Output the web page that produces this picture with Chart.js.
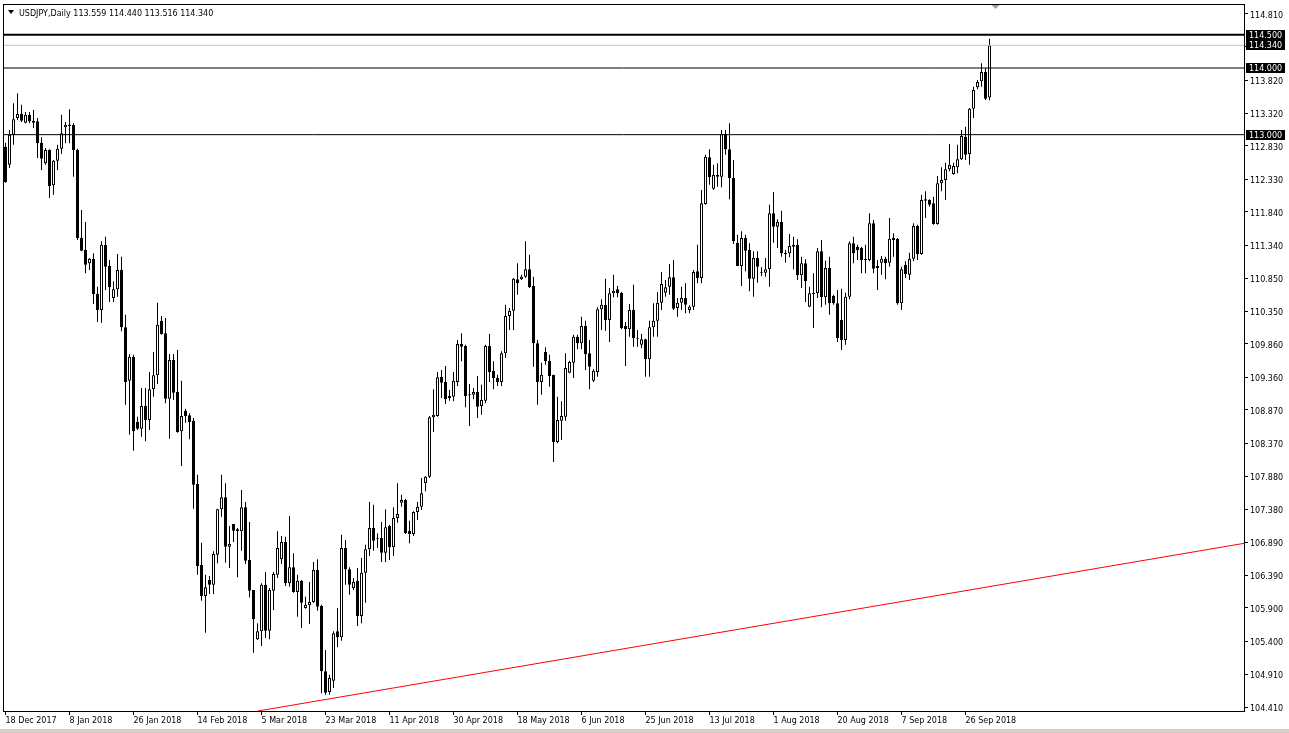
<!DOCTYPE html>
<html>
<head>
<meta charset="utf-8">
<script src="https://cdn.jsdelivr.net/npm/chart.js@4.4.1/dist/chart.umd.min.js"></script>
<style>
html,body{margin:0;padding:0;background:#fff;overflow:hidden}
#wrap{position:relative;width:1289px;height:733px}
canvas{display:block}
</style>
</head>
<body>
<div id="wrap"><canvas id="c" width="1289" height="733"></canvas></div>
<script>
const symbolTitle = 'USDJPY,Daily';
const lastBarText = '113.559 114.440 113.516 114.340';

const opens = [112.82,112.55,113.00,113.25,113.31,113.18,113.30,113.21,113.20,112.88,
112.57,112.77,112.24,112.61,112.79,113.11,113.13,113.15,112.77,111.45,
111.27,111.07,111.14,110.61,110.37,111.35,111.03,110.55,110.68,110.97,
110.11,109.31,109.67,108.69,108.59,108.93,108.72,109.18,109.39,110.21,
110.02,109.04,109.62,109.14,108.55,108.86,108.79,108.71,107.76,106.55,
106.08,106.32,106.25,106.70,107.38,107.56,106.82,107.16,107.08,107.05,
107.41,106.62,106.17,105.43,105.55,106.25,105.56,106.16,106.40,106.63,
106.89,106.27,106.51,106.14,106.31,105.90,105.94,105.99,106.47,105.93,
104.95,104.64,104.81,105.55,105.46,106.80,106.48,106.20,106.31,105.78,
106.43,106.78,107.10,106.95,106.95,106.73,107.13,106.81,107.25,107.48,
107.52,107.06,107.01,107.34,107.42,107.77,107.87,108.76,108.78,109.37,
109.29,109.08,109.07,109.29,109.86,109.83,109.10,109.10,109.14,108.93,
109.01,109.83,109.46,109.35,109.29,109.72,110.28,110.36,110.83,110.83,
110.87,110.98,110.73,109.87,109.29,109.74,109.61,109.40,108.39,108.71,
108.77,109.43,109.58,109.97,109.87,110.13,109.72,109.31,109.44,110.38,
110.45,110.22,110.62,110.68,110.63,110.13,110.08,110.37,109.95,109.85,
109.93,109.63,110.11,110.21,110.48,110.63,110.72,110.86,110.40,110.48,
110.55,110.37,110.42,110.95,110.85,111.96,112.66,112.19,112.37,112.37,
113.01,112.78,112.35,111.38,111.03,111.45,111.27,110.84,111.15,110.94,
110.93,110.98,111.82,111.62,111.69,111.23,111.22,111.35,111.35,110.89,
111.07,110.42,110.62,110.62,111.25,110.56,111.00,110.58,110.47,110.22,
109.92,110.57,111.37,111.32,111.30,111.13,111.12,111.67,111.00,111.08,
111.14,111.08,111.42,111.44,110.47,111.05,110.90,111.14,111.63,111.21,
112.01,112.02,111.97,111.66,112.27,112.32,112.48,112.41,112.51,112.63,
112.97,112.71,113.39,113.71,113.80,113.94,113.559];

const highs = [112.88,113.07,113.47,113.62,113.45,113.34,113.34,113.37,113.25,112.96,
112.80,112.78,112.62,112.85,113.30,113.19,113.38,113.17,112.79,111.87,
111.69,111.15,111.22,110.72,111.40,111.47,111.12,110.80,111.21,111.17,
110.30,109.71,109.70,108.77,109.20,109.20,109.44,109.74,110.48,110.28,
110.25,109.71,109.71,109.77,109.31,108.89,108.82,108.75,107.90,106.88,
106.40,106.38,106.75,107.39,107.90,107.77,107.13,107.16,107.10,107.67,
107.49,107.19,106.17,105.67,106.27,106.44,106.20,106.44,107.05,106.98,
106.97,107.28,106.72,106.40,106.32,106.07,106.29,106.59,106.63,105.95,
105.27,104.90,105.55,105.90,107.00,106.92,106.51,106.35,106.50,106.65,
106.85,107.49,107.45,107.02,107.19,107.38,107.15,107.41,107.77,107.60,
107.54,107.21,107.35,107.49,107.85,107.88,108.78,109.18,109.44,109.47,
109.53,109.17,109.44,109.92,110.02,109.85,109.26,109.20,109.38,109.25,
109.85,110.01,109.60,109.40,109.75,110.45,110.40,110.85,111.07,110.90,
111.40,111.20,110.87,109.92,109.58,109.81,109.70,109.40,109.07,109.00,
109.72,109.61,110.00,110.00,110.27,110.21,109.92,109.48,110.41,110.53,
110.84,110.70,110.90,110.73,110.64,110.19,110.46,110.75,110.07,110.01,
109.94,110.21,110.47,110.64,110.94,110.82,111.06,111.12,110.55,110.72,
110.77,110.44,110.97,111.35,112.17,112.70,112.78,112.55,112.57,113.07,
113.07,113.17,112.62,111.50,111.55,111.50,111.37,111.25,111.25,111.01,
111.15,111.95,112.14,111.73,111.86,111.27,111.51,111.47,111.43,111.17,
111.13,110.72,110.92,111.30,111.42,111.11,111.17,110.60,110.67,110.69,
110.63,111.40,111.47,111.35,111.32,111.35,111.82,111.72,111.12,111.18,
111.17,111.75,111.52,111.45,111.02,111.10,111.23,111.67,111.65,112.10,
112.15,112.03,112.07,112.38,112.51,112.58,112.86,112.58,112.85,113.07,
113.12,113.40,113.72,113.82,114.07,114.00,114.440];

const lows = [112.28,112.50,112.85,113.22,113.19,113.17,113.17,113.10,112.65,112.47,
112.55,112.05,112.10,112.47,112.71,112.87,112.87,112.37,111.42,111.25,
110.92,110.97,110.46,110.19,110.18,110.67,110.49,110.49,110.57,110.05,
108.95,108.50,108.26,108.57,108.47,108.40,108.57,109.07,109.26,110.00,
108.97,108.44,109.02,108.53,108.03,108.68,108.43,107.39,106.40,106.01,
105.53,106.11,106.11,106.57,107.27,106.58,106.50,106.89,106.36,106.76,
106.56,106.06,105.23,105.42,105.33,105.45,105.43,105.87,106.35,106.56,
106.23,106.22,106.13,105.77,105.60,105.89,105.66,105.98,105.86,104.62,
104.60,104.60,104.70,105.31,105.41,106.25,106.10,106.17,105.63,105.67,
105.98,106.68,106.76,106.80,106.59,106.59,106.62,106.68,107.18,107.42,
107.01,106.87,106.98,107.22,107.37,107.65,107.85,108.54,108.77,109.05,
108.96,109.01,109.00,109.23,109.60,108.91,108.63,109.03,108.75,108.80,
108.97,109.29,109.18,109.23,109.23,109.65,110.07,110.07,110.60,110.82,
110.85,110.70,109.52,108.95,109.10,109.55,109.22,108.09,108.37,108.42,
108.71,109.42,109.35,109.78,109.78,109.47,109.18,109.29,109.37,110.07,
110.06,109.89,110.56,110.56,110.08,109.53,109.97,109.82,109.82,109.80,
109.37,109.37,109.97,109.97,110.37,110.57,110.60,110.37,110.27,110.37,
110.32,110.32,110.37,110.77,110.77,111.95,112.25,112.17,112.22,112.21,
112.70,112.03,111.36,111.03,110.73,110.95,110.65,110.57,110.78,110.88,
110.87,110.72,111.38,111.30,111.17,111.08,111.16,110.98,110.82,110.70,
110.49,110.41,110.10,110.55,110.41,110.45,110.30,110.45,109.89,109.77,
109.85,110.53,111.07,111.12,110.92,110.92,111.10,110.92,110.67,110.90,
110.83,111.02,111.17,110.45,110.37,110.85,110.82,111.10,111.12,111.20,
111.75,111.92,111.65,111.65,112.15,112.02,112.45,112.40,112.42,112.62,
112.62,112.55,113.25,113.68,113.72,113.52,113.516];

const closes = [112.29,113.00,113.23,113.31,113.21,113.30,113.20,113.18,112.87,112.64,
112.77,112.23,112.61,112.79,113.02,113.15,113.15,112.77,111.45,111.26,
111.05,111.14,110.61,110.37,111.35,111.02,110.71,110.68,110.97,110.11,
109.29,109.67,108.55,108.59,108.93,108.72,109.18,109.39,110.15,110.01,
109.04,109.62,109.13,108.54,108.78,108.78,108.69,107.75,106.53,106.08,
106.21,106.25,106.71,107.38,107.56,106.82,106.86,107.06,107.05,107.41,
106.61,106.16,105.73,105.55,106.25,105.56,106.17,106.41,106.80,106.89,
106.27,106.51,106.14,106.31,105.98,105.95,105.99,106.47,105.92,104.95,
104.63,104.85,105.52,105.46,106.80,106.48,106.25,106.29,105.78,106.43,
106.78,107.10,106.91,106.94,106.73,107.11,106.81,107.25,107.31,107.52,
107.02,107.01,107.34,107.42,107.62,107.87,108.76,108.80,109.36,109.28,
109.03,109.05,109.31,109.86,109.82,109.08,109.09,109.14,108.92,109.02,
109.83,109.44,109.35,109.29,109.72,110.28,110.36,110.84,110.77,110.87,
110.98,110.71,109.87,109.29,109.40,109.60,109.38,108.39,108.72,108.78,
109.50,109.59,109.97,109.87,110.13,109.71,109.52,109.46,110.38,110.45,
110.22,110.62,110.66,110.62,110.10,110.08,110.37,109.95,109.94,109.93,
109.63,110.11,110.21,110.48,110.76,110.71,110.86,110.39,110.48,110.55,
110.45,110.42,110.94,110.85,111.97,112.67,112.36,112.40,112.40,113.01,
112.78,112.35,111.40,111.03,111.45,111.26,110.84,111.15,111.02,110.93,
110.98,111.82,111.62,111.69,111.22,111.21,111.33,111.32,110.89,111.07,
110.80,110.62,110.61,111.25,110.56,111.00,110.47,110.47,109.95,109.92,
110.57,111.37,111.22,111.27,111.12,111.12,111.67,110.99,111.03,111.14,
111.07,111.44,111.45,110.47,110.98,110.91,111.14,111.63,111.21,112.02,
112.03,111.95,111.66,112.27,112.32,112.48,112.55,112.53,112.63,112.98,
112.70,113.39,113.67,113.79,113.94,113.54,114.340];

const xTickIndex = [0,16,32,48,64,80,96,112,128,144,160,176,192,208,224,240];
const xTickLabels = ['18 Dec 2017','8 Jan 2018','26 Jan 2018','14 Feb 2018','5 Mar 2018','23 Mar 2018','11 Apr 2018','30 Apr 2018','18 May 2018','6 Jun 2018','25 Jun 2018','13 Jul 2018','1 Aug 2018','20 Aug 2018','7 Sep 2018','26 Sep 2018'];

const yTickValues = [114.81,114.32,113.82,113.32,112.83,112.33,111.84,111.34,110.85,110.35,109.86,109.36,108.87,108.37,107.88,107.38,106.89,106.39,105.90,105.40,104.91,104.41];

const levelValues = [114.5, 114.34, 114.0, 113.0];
const levelColors = ['#000000', '#c0c0c0', '#000000', '#000000'];
const levelWidths = [2, 1, 1, 1];

const trendX = [63.1, 309.625];
const trendY = [104.355, 106.87];

const X_MIN = -0.625, X_MAX = 309.625;
const Y_MIN = 104.355, Y_MAX = 114.945;
const FONT = "'DejaVu Sans', 'Liberation Sans', sans-serif";

const bodyData = opens.map((o, i) => ({x: i, y: [o, closes[i]]}));
const wickData = opens.map((o, i) => ({x: i, y: [lows[i], highs[i]]}));
const bodyFill = opens.map((o, i) => closes[i] > o ? '#ffffff' : '#000000');

const levelSets = levelValues.map((v, k) => ({
  type: 'line',
  data: [{x: X_MIN, y: v}, {x: X_MAX, y: v}],
  borderColor: levelColors[k],
  borderWidth: levelWidths[k],
  pointRadius: 0,
  tension: 0,
  order: 0
}));

const trendSet = {
  type: 'line',
  data: [{x: trendX[0], y: trendY[0]}, {x: trendX[1], y: trendY[1]}],
  borderColor: '#ff0000',
  borderWidth: 1,
  pointRadius: 0,
  order: 0
};

const framePlugin = {
  id: 'mt4frame',
  afterDraw(chart) {
    const ctx = chart.ctx;
    const a = chart.chartArea;
    const ys = chart.scales.y;
    ctx.save();
    ctx.strokeStyle = '#000';
    ctx.lineWidth = 1;
    ctx.strokeRect(a.left + 0.5, a.top - 0.5, a.right - a.left, a.bottom - a.top + 1);
    ctx.font = '8px ' + FONT;
    ctx.textBaseline = 'middle';
    ctx.textAlign = 'left';
    levelValues.forEach((v) => {
      const y = Math.round(ys.getPixelForValue(v));
      ctx.fillStyle = '#000';
      ctx.fillRect(a.right + 2, y - 5, 39, 10);
      ctx.fillStyle = '#fff';
      ctx.fillText(v.toFixed(3), a.right + 5, y + 1);
    });
    ctx.fillStyle = '#000';
    ctx.beginPath();
    ctx.moveTo(8, 10); ctx.lineTo(14, 10); ctx.lineTo(11, 14); ctx.closePath();
    ctx.fill();
    ctx.font = '8px ' + FONT;
    ctx.textBaseline = 'middle';
    ctx.fillText(symbolTitle + ' ' + lastBarText, 19, 14);
    const sx = chart.scales.x.getPixelForValue(247.5);
    ctx.fillStyle = '#a0a0a0';
    ctx.beginPath();
    ctx.moveTo(sx - 4, 5); ctx.lineTo(sx + 4, 5); ctx.lineTo(sx, 9); ctx.closePath();
    ctx.fill();
    ctx.fillStyle = '#d4d0c8';
    ctx.fillRect(0, 729, chart.width, 4);
    ctx.restore();
  }
};

new Chart(document.getElementById('c'), {
  type: 'bar',
  data: {
    datasets: [
      ...levelSets,
      trendSet,
      {
        type: 'bar', data: bodyData,
        backgroundColor: bodyFill, borderColor: '#000000', borderWidth: 1,
        borderSkipped: false, barThickness: 3, grouped: false, minBarLength: 1,
        inflateAmount: 0, order: 1
      },
      {
        type: 'bar', data: wickData,
        backgroundColor: '#000000', borderWidth: 0,
        barThickness: 1, grouped: false, inflateAmount: 0, order: 2
      }
    ]
  },
  options: {
    responsive: false,
    animation: false,
    devicePixelRatio: 1,
    layout: {padding: {left: 3, top: 5, right: 0, bottom: 0}},
    plugins: {legend: {display: false}, tooltip: {enabled: false}},
    scales: {
      x: {
        type: 'linear', position: 'bottom', min: X_MIN, max: X_MAX, bounds: 'data', offset: false,
        grid: {drawOnChartArea: false, drawTicks: true, tickLength: 4, color: '#000', offset: false},
        border: {display: false},
        ticks: {
          autoSkip: false, maxRotation: 0, minRotation: 0, align: 'start', padding: 1,
          color: '#000', font: {family: FONT, size: 8},
          callback: (v, i) => xTickLabels[i]
        },
        afterBuildTicks: s => { s.ticks = xTickIndex.map(v => ({value: v})); },
        afterFit: s => { s.height = 22; s.paddingLeft = 0; s.paddingRight = 0; }
      },
      y: {
        type: 'linear', position: 'right', min: Y_MIN, max: Y_MAX, bounds: 'data',
        grid: {drawOnChartArea: false, drawTicks: true, tickLength: 4, color: '#000'},
        border: {display: false},
        ticks: {
          autoSkip: false, padding: 2, labelOffset: 1.5, color: '#000', font: {family: FONT, size: 8},
          callback: v => Number(v).toFixed(3)
        },
        afterBuildTicks: s => { s.ticks = yTickValues.map(v => ({value: v})); },
        afterFit: s => { s.width = 45; s.paddingTop = 0; s.paddingBottom = 0; }
      }
    }
  },
  plugins: [framePlugin]
});
</script>
</body>
</html>
